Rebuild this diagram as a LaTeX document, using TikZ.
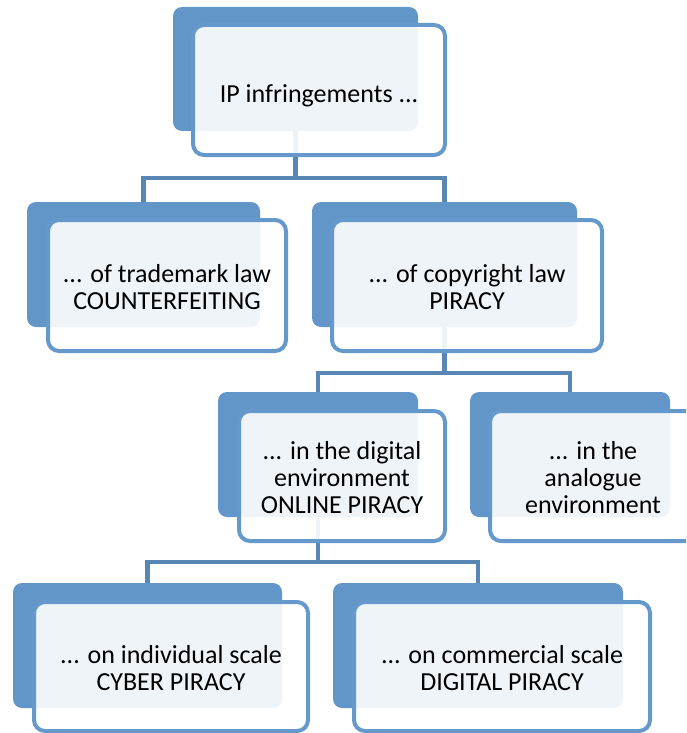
\documentclass[tikz,border=0pt]{standalone}
\usepackage{fontspec}
\setmainfont{Carlito}
\definecolor{backblue}{RGB}{98,150,200}
\definecolor{edgeblue}{RGB}{101,153,203}
\definecolor{connblue}{RGB}{88,134,181}
\begin{document}
\begin{tikzpicture}[x=1pt,y=-1pt,
  backbox/.style={rectangle, rounded corners=9pt, fill=backblue, inner sep=0pt, outer sep=0pt},
  frontbox/.style={rectangle, rounded corners=11pt, draw=edgeblue, line width=4pt,
    fill=white, fill opacity=0.9, inner sep=0pt, outer sep=0pt},
  label text/.style={text=black, inner sep=0pt, align=center, font=\fontsize{26}{27}\selectfont},
  conn/.style={draw=connblue, line width=4.5pt}]
\path[use as bounding box] (0,0) rectangle (686,733);
\clip (0,0) rectangle (686,733);
% back boxes
\node[backbox, minimum width=245pt, minimum height=124pt] (bA) at (295.5,69) {};
\node[backbox, minimum width=233pt, minimum height=125pt] (bB) at (143.5,264.5) {};
\node[backbox, minimum width=265pt, minimum height=125pt] (bC) at (444.5,264.5) {};
\node[backbox, minimum width=200pt, minimum height=125pt] (bD) at (318,454.5) {};
\node[backbox, minimum width=200pt, minimum height=125pt] (bE) at (570,454.5) {};
\node[backbox, minimum width=269pt, minimum height=125pt] (bF) at (147.5,645.5) {};
\node[backbox, minimum width=290pt, minimum height=125pt] (bG) at (478,645.5) {};
% bus levels
\coordinate (busA) at (0,178);
\coordinate (busC) at (0,373);
\coordinate (busD) at (0,562);
% connectors
\draw[conn] (bA.south) -- (bA.south |- busA);
\draw[conn] (bB.north) |- (bC.north |- busA) -- (bC.north);
\draw[conn] (bC.south) -- (bC.south |- busC);
\draw[conn] (bD.north) |- (bE.north |- busC) -- (bE.north);
\draw[conn] (bD.south) -- (bD.south |- busD);
\draw[conn] (bF.north) |- (bG.north |- busD) -- (bG.north);
% front boxes
\node[frontbox, minimum width=252pt, minimum height=130pt] (fA) at (319,90) {};
\node[frontbox, minimum width=238pt, minimum height=131pt] (fB) at (167,285.5) {};
\node[frontbox, minimum width=270pt, minimum height=131pt] (fC) at (467,285.5) {};
\node[frontbox, minimum width=206pt, minimum height=130pt] (fD) at (342,476) {};
\node[frontbox, minimum width=206pt, minimum height=130pt] (fE) at (593,476) {};
\node[frontbox, minimum width=274pt, minimum height=129pt] (fF) at (171,666.5) {};
\node[frontbox, minimum width=296pt, minimum height=129pt] (fG) at (502,666.5) {};
% texts
\node[label text, yshift=-6pt] (tA) at (fA.center) {IP infringements ...};
\node[label text, yshift=-2pt] (tB) at (fB.center) {... of trademark law\\COUNTERFEITING};
\node[label text, yshift=-2pt] (tC) at (fC.center) {... of copyright law\\PIRACY};
\node[label text, yshift=-2pt] (tD) at (fD.center) {... in the digital\\environment\\ONLINE PIRACY};
\node[label text, yshift=-2pt] (tE) at (fE.center) {... in the\\analogue\\environment};
\node[label text, yshift=-2pt] (tF) at (fF.center) {... on individual scale\\CYBER PIRACY};
\node[label text, yshift=-2pt] (tG) at (fG.center) {... on commercial scale\\DIGITAL PIRACY};
\end{tikzpicture}
\end{document}
